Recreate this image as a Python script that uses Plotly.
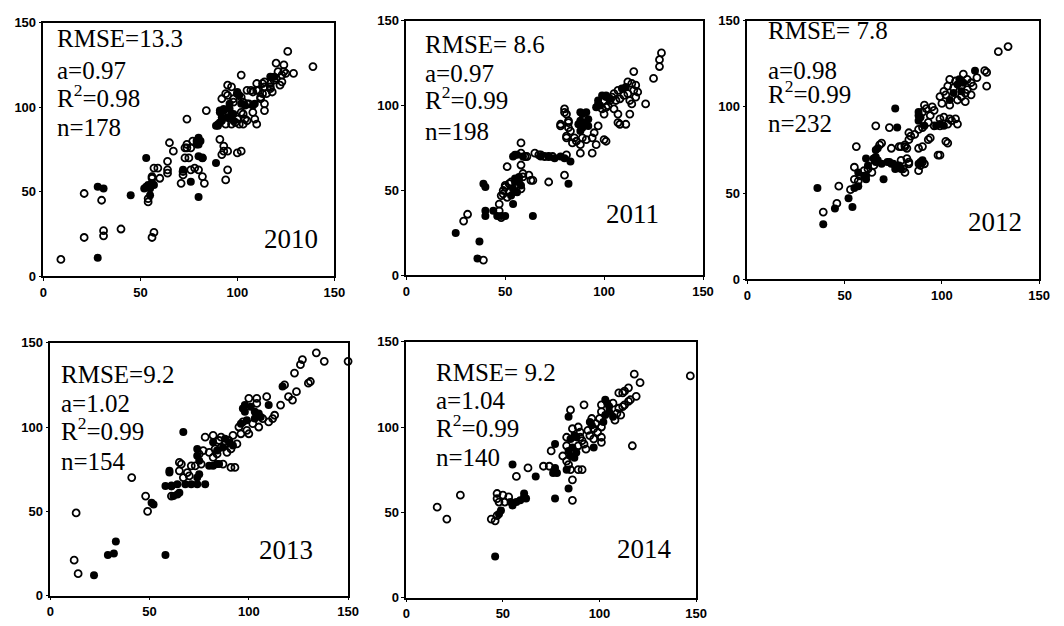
import plotly.graph_objects as go

# ---------------- data ----------------
years = ["2010", "2011", "2012", "2013", "2014"]
stats_rmse = ["RMSE=13.3", "RMSE= 8.6", "RMSE= 7.8", "RMSE=9.2", "RMSE= 9.2"]
stats_a = ["a=0.97", "a=0.97", "a=0.98", "a=1.02", "a=1.04"]
stats_r2 = ["0.98", "0.99", "0.99", "0.99", "0.99"]
stats_n = ["n=178", "n=198", "n=232", "n=154", "n=140"]
tick_vals = [0, 50, 100, 150]

open_2010 = [(9,10),(21,23),(31,27),(31,24),(40,28),(57,26),(56,23),(21,49),(30,45),(54,44),(54,46),(56,59),
             (57,64),(59,64),(60,58),(64,68),(65,79),(64,61),(67,74),(71,55),(72,60),(72,62),(73,76),(74,78),
             (74,93),(73,70),(75,70),(76,63),(78,64),(80,63),(77,80),(76,76),(82,70),(82,59),(83,55),(84,98),
             (91,81),(93,77),(93,74),(92,72),(95,74),(95,63),(94,57),(100,73),(102,74),(95,113),(97,112),(94,108),
             (98,105),(102,119),(105,110),(107,110),(110,114),(110,110),(112,105),(114,115),(115,108),(117,112),
             (120,126),(121,121),(124,125),(126,133),(129,120),(122,113),(139,124),(120,117),(124,121),(106,102),
             (108,97),(109,93),(110,90),(103,96),(105,92),(99,91),(101,90),(125,120),(123,119),(119,116),(123,115),
             (117,114),(117,111),(118,109),(113,114),(114,112),(113,108),(112,106),(111,110),(108,109),(95,107),
             (92,105),(100,108),(102,106),(103,103),(105,102),(114,102),(114,98),(104,93),(103,90),(100,93),
             (97,90),(94,90),(102,97),(98,103),(74,76),(64,63),(56,58)]
filled_2010 = [(28,11),(28,53),(31,52),(45,48),(53,70),(52,52),(54,54),(56,55),(57,54),(55,48),(53,53),(55,52),
               (72,63),(76,56),(79,80),(80,82),(80,78),(81,80),(79,78),(80,71),(82,70),(80,47),(89,67),(90,89),
               (91,91),(91,97),(93,98),(96,102),(97,96),(100,109),(101,107),(102,102),(104,101),(108,101),(117,118),
               (109,102),(91,98),(93,99),(96,99),(92,94),(90,90),(92,92),(95,94),(98,96),(98,92),(89,89),(119,118)]

open_2011 = [(29,32),(31,36),(39,9),(47,42),(48,34),(51,64),(50,52),(49,48),(52,54),(58,78),(58,72),(61,70),
             (58,65),(59,60),(62,59),(64,56),(65,72),(67,71),(70,70),(72,70),(72,55),(80,59),(81,71),(78,88),
             (80,96),(81,95),(81,81),(82,91),(94,72),(100,80),(101,79),(113,95),(111,89),(108,89),(114,101),
             (121,101),(115,120),(125,116),(128,123),(128,127),(129,131),(112,114),(114,113),(116,112),(117,108),
             (115,109),(112,107),(110,106),(108,104),(116,105),(113,103),(107,109),(105,107),(106,103),(103,103),
             (104,105),(102,100),(105,98),(107,95),(107,90),(100,95),(101,99),(99,98),(80,98),(78,89),(82,90),
             (83,85),(81,82),(85,81),(89,81),(91,80),(86,79),(88,77),(94,81),(96,77),(88,72),(84,78),(82,87),
             (50,53),(49,50),(52,49),(51,46),(59,58),(63,56),(58,51),(53,55),(48,47),(47,38),(60,70),(68,71),
             (74,70),(95,84),(97,88)]
filled_2011 = [(25,25),(37,20),(36,10),(39,54),(40,52),(40,35),(40,38),(44,38),(46,35),(48,35),(50,35),(54,42),
               (55,71),(56,71),(54,70),(59,70),(64,35),(68,70),(72,70),(75,69),(78,70),(80,69),(83,67),(82,54),
               (55,57),(57,58),(58,53),(54,51),(56,49),(53,47),(55,55),(57,56),(91,96),(89,95),(88,91),(90,90),
               (87,89),(89,87),(92,92),(92,88),(88,85),(99,106),(101,105),(97,103),(97,101),(96,99),(98,100),
               (101,106),(103,104),(109,110),(111,111),(88,96)]

open_2012 = [(39,39),(46,44),(47,54),(53,52),(55,58),(55,65),(56,77),(66,89),(73,88),(68,78),(69,79),(78,77),
             (79,77),(81,78),(82,76),(83,85),(84,83),(86,84),(88,87),(79,69),(80,64),(81,62),(82,70),(83,68),
             (88,63),(89,66),(90,68),(91,67),(94,82),(99,72),(103,79),(88,76),(90,77),(129,132),(134,135),
             (123,120),(123,112),(122,121),(118,117),(115,114),(113,110),(115,107),(112,103),(110,106),(108,104),
             (104,116),(103,112),(102,107),(104,101),(107,115),(110,112),(113,116),(111,119),(99,106),(100,102),
             (101,109),(91,101),(92,99),(90,97),(95,100),(96,98),(94,95),(99,93),(101,94),(104,93),(105,92),
             (107,93),(108,90),(103,90),(99,89),(96,89),(93,91),(90,88),(83,81),(81,77),(93,81),(102,80),(98,72),
             (83,67),(74,76),(60,63),(58,60),(62,64),(64,62),(57,57),(65,66),(112,108),(106,111),(116,112)]
filled_2012 = [(36,53),(39,32),(45,41),(52,47),(54,42),(55,53),(57,54),(76,99),(77,88),(67,76),(66,75),(70,58),
               (61,70),(65,70),(62,66),(60,60),(57,62),(73,68),(75,67),(76,64),(117,121),(99,90),(97,89),
               (108,113),(110,109),(106,108),(111,114),(104,104),(109,116),(88,97),(88,95),(89,94),(88,92),
               (91,89),(101,89),(88,67),(89,68),(90,69),(66,71),(65,70),(66,68),(67,69),(69,67),(72,68),(74,67),
               (78,66),(79,64),(61,60),(61,58)]

open_2013 = [(13,49),(12,21),(14,13),(41,70),(48,59),(49,50),(150,139),(134,144),(138,139),(127,140),(126,137),
             (123,132),(118,125),(131,127),(130,126),(124,121),(120,118),(122,116),(116,113),(113,107),(112,105),
             (110,103),(109,118),(104,117),(104,114),(100,117),(78,94),(82,95),(86,94),(80,85),(82,82),(87,78),
             (91,76),(93,76),(76,78),(71,77),(66,78),(65,74),(70,71),(65,79),(61,59),(95,100),(97,103),(99,98),
             (92,95),(90,92),(94,90),(88,90),(86,88),(85,92),(83,87),(84,84),(102,102),(105,100),(107,105),
             (100,96),(96,96),(91,87),(89,85),(75,84),(77,86),(73,77),(61,65),(67,70),(69,73)]
filled_2013 = [(22,12),(29,24),(32,25),(33,32),(52,54),(58,24),(67,97),(117,124),(110,113),(98,113),(97,111),
               (98,109),(101,112),(103,109),(105,108),(103,105),(106,106),(82,91),(88,93),(90,91),(92,89),(74,87),
               (74,83),(75,80),(84,86),(87,88),(80,77),(82,77),(84,78),(85,78),(60,74),(60,73),(74,70),(75,72),
               (58,65),(61,65),(64,66),(68,66),(71,66),(74,66),(78,66),(62,59),(64,60),(65,61),(51,55),(99,104),
               (96,102)]

open_2014 = [(16,53),(21,46),(28,60),(44,46),(46,45),(47,48),(147,130),(118,131),(121,126),(115,123),(113,121),
             (112,120),(110,120),(119,118),(116,116),(115,115),(113,113),(112,112),(117,89),(92,113),(85,110),
             (101,113),(107,114),(110,111),(109,108),(111,107),(108,104),(101,109),(100,105),(96,105),(98,102),
             (101,100),(97,99),(94,98),(99,97),(95,95),(101,94),(97,93),(101,91),(89,100),(90,97),(90,94),
             (91,92),(86,99),(83,94),(89,89),(92,90),(93,87),(83,89),(81,83),(83,80),(84,78),(85,75),(75,86),
             (71,77),(74,77),(89,75),(91,75),(86,69),(86,57),(63,76),(57,71),(47,61),(47,58),(50,60),(53,59),
             (48,56),(51,56)]
filled_2014 = [(46,24),(48,49),(49,51),(103,116),(104,114),(105,112),(105,109),(103,107),(107,106),(102,103),
               (95,103),(96,101),(97,88),(87,95),(88,94),(85,93),(86,88),(84,86),(88,85),(85,83),(87,82),(77,90),
               (77,76),(78,73),(76,73),(83,75),(84,64),(77,58),(67,71),(55,78),(57,56),(59,57),(61,59),(61,61),
               (55,54),(54,56),(62,58),(84,106)]

open_sets = [open_2010, open_2011, open_2012, open_2013, open_2014]
filled_sets = [filled_2010, filled_2011, filled_2012, filled_2013, filled_2014]

# ---------------- layout geometry (pixels in a 1064x626 canvas) ----------------
W, H = 1064, 626
boxes = [(40, 335, 16, 276), (408, 709, 14, 275), (754, 1050, 14, 279),
         (47, 349, 344, 603), (408, 702, 343, 605)]
stat_left = [52, 425, 773, 56, 436]
# vertical centre of the capital letters of each stats line
stat_rows = [(34, 66, 95, 125), (40, 70, 97, 129), (25, 66, 91, 121),
             (378, 408, 436, 467), (376, 405, 433, 463)]
year_pos = [(291, 240), (637, 214), (1005, 223), (286, 559), (650, 558)]

def px(x):
    return x / W

def py(y):
    return 1 - y / H

fig = go.Figure()
layout = dict(width=W, height=H, margin=dict(l=0, r=0, t=0, b=0),
              paper_bgcolor="white", plot_bgcolor="white", showlegend=False)
annotations = []
tickfont = dict(family="Liberation Sans, Arial", size=13, color="black", weight="bold")
stat_font = dict(family="Liberation Serif, Times New Roman", size=25, color="black")
year_font = dict(family="Liberation Serif, Times New Roman", size=27, color="black")

for i in range(5):
    k = "" if i == 0 else str(i + 1)
    x0, x1, y0, y1 = boxes[i]
    ax = dict(domain=[px(x0), px(x1)], range=[0, 150], tickvals=tick_vals,
              showline=True, linecolor="black", linewidth=1.5, mirror=True,
              ticks="outside", ticklen=3, tickcolor="black", tickwidth=1,
              showgrid=False, zeroline=False, tickfont=tickfont)
    layout["xaxis" + k] = dict(ax, anchor="y" + k)
    layout["yaxis" + k] = dict(ax, domain=[py(y1), py(y0)], anchor="x" + k)

    ox = [p[0] for p in open_sets[i]]
    oy = [p[1] for p in open_sets[i]]
    fx = [p[0] for p in filled_sets[i]]
    fy = [p[1] for p in filled_sets[i]]
    fig.add_trace(go.Scatter(x=ox, y=oy, mode="markers", xaxis="x" + k, yaxis="y" + k,
                             cliponaxis=False,
                             marker=dict(symbol="circle-open", size=7, color="black",
                                         line=dict(width=1.8, color="black"))))
    fig.add_trace(go.Scatter(x=fx, y=fy, mode="markers", xaxis="x" + k, yaxis="y" + k,
                             cliponaxis=False,
                             marker=dict(symbol="circle", size=8, color="black",
                                         line=dict(width=0))))

    texts = [stats_rmse[i], stats_a[i], "R<sup>2</sup>=" + stats_r2[i], stats_n[i]]
    for t, yrow in zip(texts, stat_rows[i]):
        annotations.append(dict(x=px(stat_left[i]), y=py(yrow + 14.5), xref="paper", yref="paper",
                                text=t, showarrow=False, xanchor="left", yanchor="bottom",
                                font=stat_font))
    annotations.append(dict(x=px(year_pos[i][0]), y=py(year_pos[i][1] + 15), xref="paper", yref="paper",
                            text=years[i], showarrow=False, xanchor="center", yanchor="bottom",
                            font=year_font))

layout["annotations"] = annotations
fig.update_layout(**layout)
fig.write_html("out.html", config={"displayModeBar": False},
               post_script="document.body.style.margin='0';document.body.style.padding='0';")
